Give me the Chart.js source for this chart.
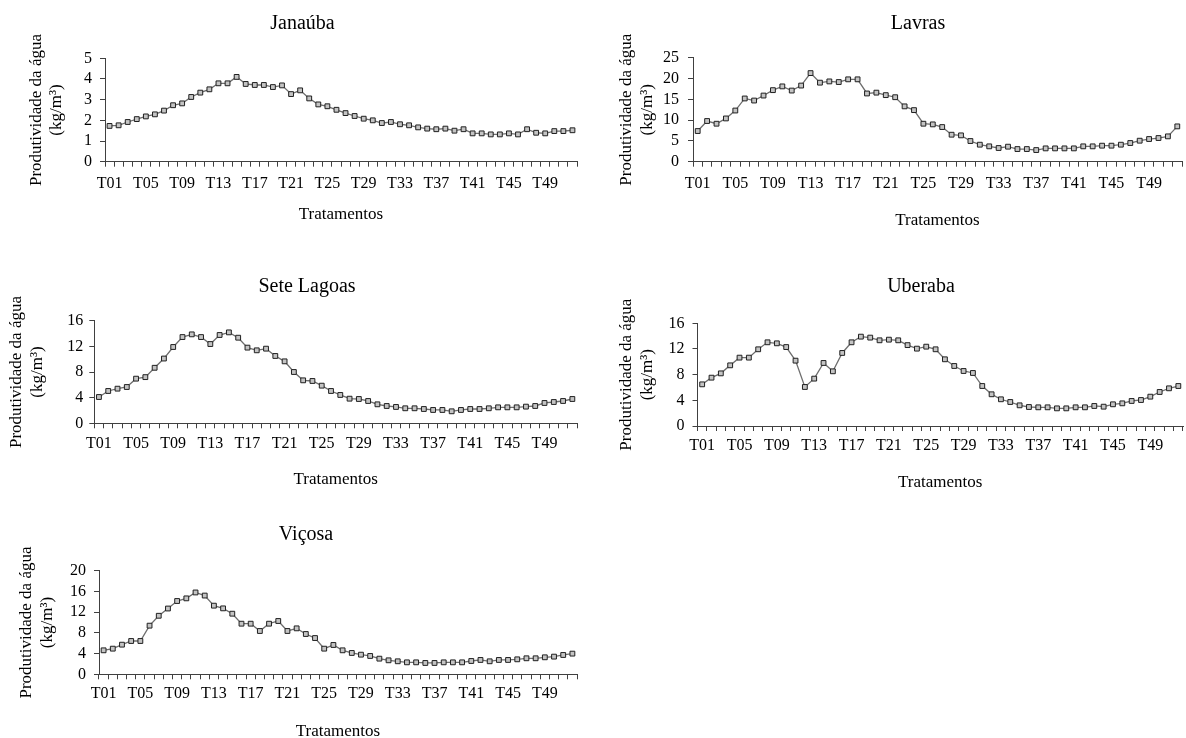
<!DOCTYPE html>
<html><head><meta charset="utf-8">
<script src="https://cdn.jsdelivr.net/npm/chart.js@4.4.0/dist/chart.umd.min.js"></script>
<style>
html,body{margin:0;padding:0;background:#fff;overflow:hidden;width:1186px;height:738px;position:relative;}
canvas{position:absolute;}
</style></head><body>
<canvas id="c1"></canvas>
<canvas id="c2"></canvas>
<canvas id="c3"></canvas>
<canvas id="c4"></canvas>
<canvas id="c5"></canvas>
<script>
// ---------- DATA ----------
const categories = ['T01','T02','T03','T04','T05','T06','T07','T08','T09','T10','T11','T12','T13','T14','T15','T16','T17','T18','T19','T20','T21','T22','T23','T24','T25','T26','T27','T28','T29','T30','T31','T32','T33','T34','T35','T36','T37','T38','T39','T40','T41','T42','T43','T44','T45','T46','T47','T48','T49','T50','T51','T52'];

const janauba = [1.73,1.76,1.92,2.06,2.19,2.29,2.47,2.73,2.82,3.13,3.34,3.50,3.79,3.79,4.10,3.76,3.71,3.71,3.61,3.69,3.27,3.45,
  3.06,2.77,2.68,2.51,2.35,2.21,2.08,2.00,1.87,1.92,1.81,1.76,1.66,1.60,1.57,1.60,1.50,1.57,1.37,1.37,1.32,1.32,1.37,1.32,1.57,1.40,1.37,1.48,1.48,1.52];

const lavras = [7.37,9.78,9.13,10.4,12.3,15.2,14.7,15.9,17.2,18.1,17.1,18.3,21.3,19.0,19.3,19.15,19.8,19.8,16.4,16.6,16.0,15.5,
  13.3,12.4,9.13,8.97,8.33,6.49,6.33,4.97,4.09,3.69,3.29,3.61,3.04,3.04,2.80,3.20,3.20,3.20,3.20,3.69,3.69,3.85,3.85,4.09,4.49,5.05,5.45,5.69,6.09,8.49];

const seteLagoas = [4.10,5.04,5.40,5.66,6.96,7.20,8.66,10.1,11.9,13.45,13.87,13.45,12.36,13.77,14.18,13.35,11.8,11.38,11.64,10.5,9.66,8.0,
  6.7,6.6,5.87,5.04,4.42,3.84,3.79,3.48,2.96,2.7,2.55,2.34,2.34,2.23,2.08,2.08,1.87,2.08,2.23,2.23,2.34,2.49,2.49,2.49,2.6,2.7,3.17,3.32,3.48,3.79];

const uberaba = [6.49,7.53,8.2,9.45,10.65,10.65,11.95,13.04,12.88,12.3,10.18,6.08,7.38,9.82,8.52,11.38,13.04,13.92,13.77,13.35,13.45,
  13.35,12.6,12.05,12.36,11.95,10.39,9.35,8.57,8.26,6.23,4.94,4.16,3.74,3.22,2.96,2.91,2.91,2.75,2.75,2.91,2.91,3.12,3.01,3.38,3.53,3.9,4.05,4.57,5.3,5.87,6.23];

const vicosa = [4.63,4.95,5.72,6.43,6.43,9.39,11.3,12.7,14.15,14.66,15.8,15.2,13.25,12.73,11.7,9.77,9.77,8.36,9.77,10.29,8.36,
  8.87,7.78,7.0,4.95,5.66,4.63,4.12,3.79,3.54,3.02,2.7,2.51,2.31,2.31,2.19,2.19,2.31,2.31,2.31,2.57,2.77,2.51,2.77,2.77,2.89,3.09,3.09,3.28,3.41,3.73,3.99];

const panelTitles = ['Janaúba','Lavras','Sete Lagoas','Uberaba','Viçosa'];
const yAxisTitle = ['Produtividade da água','(kg/m³)'];
const xAxisTitle = 'Tratamentos';
const yMaxes = [5,25,16,16,20];
const ySteps = [1,5,4,4,4];

// ---------- LAYOUT ----------
const layouts = [
  {id:'c1', cl:0,   ct:0,   titleX:302.5, titleY:24,  plotL:105,   plotR:580,    plotT:58.3,  plotB:161.7, yTitleX:36.3,  xLabelY:183.3, xTitleY:215,   yPad:8},
  {id:'c2', cl:593, ct:0,   titleX:918,   titleY:24,  plotL:693,   plotR:1185,   plotT:57.7,  plotB:161.7, yTitleX:627,   xLabelY:183.3, xTitleY:221,   yPad:9},
  {id:'c3', cl:0,   ct:262, titleX:307,   titleY:287, plotL:94.3,  plotR:580,    plotT:320.7, plotB:423.3, yTitleX:17,    xLabelY:444,   xTitleY:480,   yPad:6},
  {id:'c4', cl:593, ct:262, titleX:921,   titleY:287, plotL:697.5, plotR:1185.5, plotT:323.3, plotB:426,   yTitleX:626.7, xLabelY:445.7, xTitleY:482.7, yPad:8},
  {id:'c5', cl:0,   ct:510, titleX:306,   titleY:535, plotL:99,    plotR:580,    plotT:570.7, plotB:674.3, yTitleX:26.7,  xLabelY:693.3, xTitleY:731.7, yPad:8}
];
const seriesList = [janauba, lavras, seteLagoas, uberaba, vicosa];

const FONT = '"Liberation Serif", "Times New Roman", Times, serif';
Chart.defaults.font.family = FONT;
Chart.defaults.color = '#000';
const AXIS = '#404040';
const TITLE_SIZE = 20, AXTITLE_SIZE = 17, TICK_SIZE = 16;

layouts.forEach((p, k) => {
  const titleLH = TITLE_SIZE * 1.2, axLH = AXTITLE_SIZE * 1.2, tickLH = TICK_SIZE * 1.2;
  const titleBoxLeft = 2 * p.titleX - p.plotR;
  const scaleBottom = p.xTitleY + axLH / 2;
  const W = Math.ceil(p.plotR - p.cl + 2);
  const H = Math.ceil(scaleBottom - p.ct + 2);
  const padL = titleBoxLeft - p.cl;
  const padR = W - (p.plotR - p.cl);
  const padT = p.titleY - titleLH / 2 - p.ct;
  const padB = H - (scaleBottom - p.ct);
  const titlePadB = p.plotT - (p.titleY + titleLH / 2);
  const yW = p.plotL - titleBoxLeft;
  const yTitlePad = p.yTitleX - titleBoxLeft - axLH / 2;
  const xH = scaleBottom - p.plotB;
  const xTickPad = p.xLabelY - p.plotB - 5 - tickLH / 2;

  const cv = document.getElementById(p.id);
  cv.width = W; cv.height = H;
  cv.style.left = p.cl + 'px'; cv.style.top = p.ct + 'px';
  cv.style.width = W + 'px'; cv.style.height = H + 'px';

  new Chart(cv, {
    type: 'line',
    data: {
      labels: categories,
      datasets: [{
        data: seriesList[k],
        borderColor: '#6e6e6e',
        borderWidth: 1.3,
        tension: 0,
        fill: false,
        pointStyle: 'rect',
        pointRadius: 3.4,
        pointBorderWidth: 1,
        pointBorderColor: '#202020',
        pointBackgroundColor: '#c4c4c4'
      }]
    },
    options: {
      responsive: false,
      animation: false,
      devicePixelRatio: 1,
      layout: { padding: { left: padL, right: padR, top: padT, bottom: padB } },
      plugins: {
        legend: { display: false },
        tooltip: { enabled: false },
        title: {
          display: true, text: panelTitles[k], color: '#000',
          font: { size: TITLE_SIZE, weight: 'normal', family: FONT },
          padding: { top: 0, bottom: titlePadB }
        }
      },
      scales: {
        x: {
          type: 'category',
          offset: true,
          afterFit: s => { s.height = xH; },
          grid: { offset: true, drawOnChartArea: false, drawTicks: true, tickLength: 5, color: AXIS, lineWidth: 1 },
          border: { display: true, color: AXIS, width: 1 },
          ticks: {
            autoSkip: false, maxRotation: 0, minRotation: 0, padding: xTickPad,
            font: { size: TICK_SIZE, family: FONT }, color: '#000',
            callback: (v, i) => (i % 4 === 0 ? categories[i] : '')
          },
          title: {
            display: true, text: xAxisTitle, color: '#000',
            font: { size: AXTITLE_SIZE, family: FONT },
            padding: { top: 0, bottom: 0 }
          }
        },
        y: {
          min: 0, max: yMaxes[k],
          afterFit: s => { s.width = yW; },
          grid: { drawOnChartArea: false, drawTicks: true, tickLength: 5, color: AXIS, lineWidth: 1 },
          border: { display: true, color: AXIS, width: 1 },
          ticks: { stepSize: ySteps[k], autoSkip: false, padding: p.yPad, font: { size: TICK_SIZE, family: FONT }, color: '#000' },
          title: {
            display: true, text: yAxisTitle, color: '#000',
            font: { size: AXTITLE_SIZE, family: FONT },
            padding: { top: yTitlePad, bottom: 0 }
          }
        }
      }
    }
  });
});
</script>
</body></html>
